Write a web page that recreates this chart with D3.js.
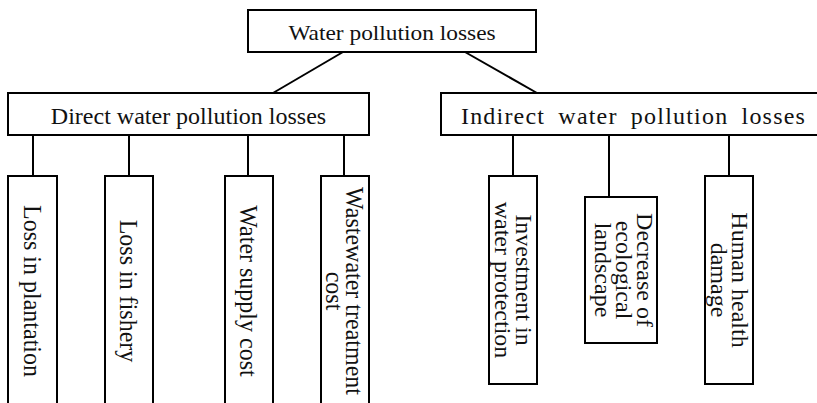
<!DOCTYPE html>
<html>
<head>
<meta charset="utf-8" />
<title>Water pollution losses</title>
<script src="https://d3js.org/d3.v7.min.js"></script>
<style>
  body { margin: 0; background: #fff; }
  text { font-family: "Liberation Serif", "Times New Roman", serif; fill: #111; }
</style>
</head>
<body>
<svg id="chart" width="817" height="403"></svg>
<script>
// labels of the tree (one array per level)
const rootLabel = "Water pollution losses";
const branchLabels = ["Direct water pollution losses", "Indirect water pollution losses"];
const directLeaves = [["Loss in plantation"], ["Loss in fishery"], ["Water supply cost"], ["Wastewater treatment", "cost"]];
const indirectLeaves = [["Investment in", "water protection"], ["Decrease of", "ecological", "landscape"], ["Human health", "damage"]];

// layout of the boxes (pixels)
const rootBox = {x0: 248, x1: 536, y0: 10, y1: 52};
const branchBoxes = [{x0: 8, x1: 369, y0: 93, y1: 135}, {x0: 441, x1: 826, y0: 93, y1: 135}];
const rootLinkFrom = [343, 465];   // x on bottom of root box
const rootLinkTo = [273, 537];     // x on top of branch box
const leafLineX = [[33, 129, 248, 344], [513, 609, 729]];
const leafBoxes = [
  [{x0: 8, x1: 57, y0: 176, y1: 406}, {x0: 105, x1: 153, y0: 176, y1: 406},
   {x0: 225, x1: 273, y0: 176, y1: 406}, {x0: 321, x1: 369, y0: 176, y1: 406}],
  [{x0: 489, x1: 537, y0: 176, y1: 384}, {x0: 585, x1: 657, y0: 197, y1: 343},
   {x0: 705, x1: 753, y0: 176, y1: 384}]
];
const leafTextShift = [[0, 0, 0, 0], [0, 3, 0]];

const treeData = {
  name: rootLabel,
  children: branchLabels.map((b, i) => ({
    name: b,
    children: (i === 0 ? directLeaves : indirectLeaves).map(l => ({name: l.join(" "), lines: l}))
  }))
};
const root = d3.hierarchy(treeData);

// attach layout
root.box = rootBox;
root.children.forEach((b, i) => {
  b.box = branchBoxes[i];
  b.idx = i;
  b.children.forEach((l, j) => {
    l.box = leafBoxes[i][j];
    l.lineX = leafLineX[i][j];
    l.shift = leafTextShift[i][j];
  });
});

const svg = d3.select("#chart");
const gLinks = svg.append("g");
const gNodes = svg.append("g");

// links
root.links().forEach(lk => {
  let x1, y1, x2, y2;
  if (lk.source.depth === 0) {
    x1 = rootLinkFrom[lk.target.idx]; y1 = lk.source.box.y1;
    x2 = rootLinkTo[lk.target.idx]; y2 = lk.target.box.y0;
  } else {
    x1 = x2 = lk.target.lineX;
    y1 = lk.source.box.y1; y2 = lk.target.box.y0;
  }
  gLinks.append("line")
    .attr("x1", x1).attr("y1", y1).attr("x2", x2).attr("y2", y2)
    .attr("stroke", "#000").attr("stroke-width", 2);
});

// boxes
gNodes.selectAll("rect")
  .data(root.descendants())
  .join("rect")
  .attr("x", d => d.box.x0).attr("y", d => d.box.y0)
  .attr("width", d => d.box.x1 - d.box.x0)
  .attr("height", d => d.box.y1 - d.box.y0)
  .attr("fill", "#fff").attr("stroke", "#000").attr("stroke-width", 2);

// horizontal labels
function hLabel(d, size, sx, ls, ws) {
  const cx = (d.box.x0 + d.box.x1) / 2;
  const cy = (d.box.y0 + d.box.y1) / 2;
  const by = cy + 0.662 * size / 2 + 2;
  gNodes.append("text")
    .attr("transform", `translate(${cx},${by}) scale(${sx},1)`)
    .attr("text-anchor", "middle")
    .style("font-size", size + "px")
    .style("letter-spacing", ls + "px")
    .style("word-spacing", ws + "px")
    .text(d.data.name);
}
hLabel(root, 20, 1.17, 0, 0);
hLabel(root.children[0], 24, 1, 0, 0);
hLabel(root.children[1], 24, 1, 1.2, 6);

// vertical labels (rotated clockwise)
function vLabel(d, size, sx, lh) {
  const cx = (d.box.x0 + d.box.x1) / 2 + d.shift;
  const cy = (d.box.y0 + d.box.y1) / 2;
  const n = d.data.lines.length;
  const capH = 0.662 * size;
  d.data.lines.forEach((t, i) => {
    const bx = cx - capH * sx / 2 + ((n - 1) / 2 - i) * lh;
    gNodes.append("text")
      .attr("transform", `translate(${cx},${cy}) scale(${sx},1) rotate(90)`)
      .attr("x", 0)
      .attr("y", -(bx - cx) / sx)
      .attr("text-anchor", "middle")
      .style("font-size", size + "px")
      .text(t);
  });
}
root.children[0].children.forEach(d => vLabel(d, 24, 1.08, 20));
root.children[1].children.forEach(d => vLabel(d, 24, 1.0, 21));
</script>
</body>
</html>
